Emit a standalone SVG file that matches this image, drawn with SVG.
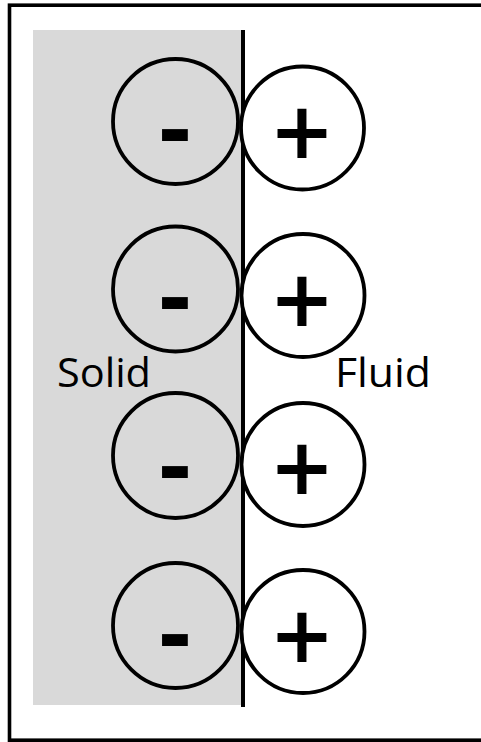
<svg xmlns="http://www.w3.org/2000/svg" width="481" height="742" viewBox="0 0 481 742">
  <style>
    .ion { stroke: #000; stroke-width: 3.8; }
    .neg { fill: none; }
    .pos { fill: #fff; }
    .sign { font-family: "DejaVu Sans", sans-serif; font-weight: bold; fill: #000; text-anchor: middle; }
    .minus { font-size: 84px; }
    .plus { font-size: 78px; }
    .label { font-family: "Open Sans", "Liberation Sans", sans-serif; font-size: 40px; font-weight: 500; fill: #000; }
  </style>
  <rect width="481" height="742" fill="#fff"/>
  <!-- frame (right side runs off the canvas) -->
  <rect x="9.5" y="5.2" width="490" height="735" fill="none" stroke="#000" stroke-width="3.6"/>
  <!-- solid region -->
  <rect id="solid" x="33" y="30" width="209" height="675" fill="#d9d9d9"/>
  <!-- interface -->
  <g id="connectors">
    <line x1="243" y1="30" x2="243" y2="707" stroke="#000" stroke-width="4"/>
  </g>
  <text class="label" x="57" y="386.5" textLength="94" lengthAdjust="spacingAndGlyphs">Solid</text>
  <text class="label" x="335" y="386.5" textLength="96" lengthAdjust="spacingAndGlyphs">Fluid</text>

  <g id="neg1"><circle class="ion neg" cx="175.5" cy="121.5" r="62.5"/><text class="sign minus" x="175" y="159">-</text></g>
  <g id="pos1"><circle class="ion pos" cx="302.5" cy="128" r="61.5"/><text class="sign plus" x="302" y="158">+</text></g>
  <g id="neg2"><circle class="ion neg" cx="175.5" cy="289" r="62.5"/><text class="sign minus" x="175" y="327">-</text></g>
  <g id="pos2"><circle class="ion pos" cx="303" cy="295.5" r="61.5"/><text class="sign plus" x="302" y="326">+</text></g>
  <g id="neg3"><circle class="ion neg" cx="175.5" cy="455.5" r="62.5"/><text class="sign minus" x="175" y="495.5">-</text></g>
  <g id="pos3"><circle class="ion pos" cx="303" cy="464.5" r="61.5"/><text class="sign plus" x="302" y="494">+</text></g>
  <g id="neg4"><circle class="ion neg" cx="175.5" cy="625.5" r="62.5"/><text class="sign minus" x="175" y="664">-</text></g>
  <g id="pos4"><circle class="ion pos" cx="303" cy="631.5" r="61.5"/><text class="sign plus" x="302" y="661.5">+</text></g>
</svg>
